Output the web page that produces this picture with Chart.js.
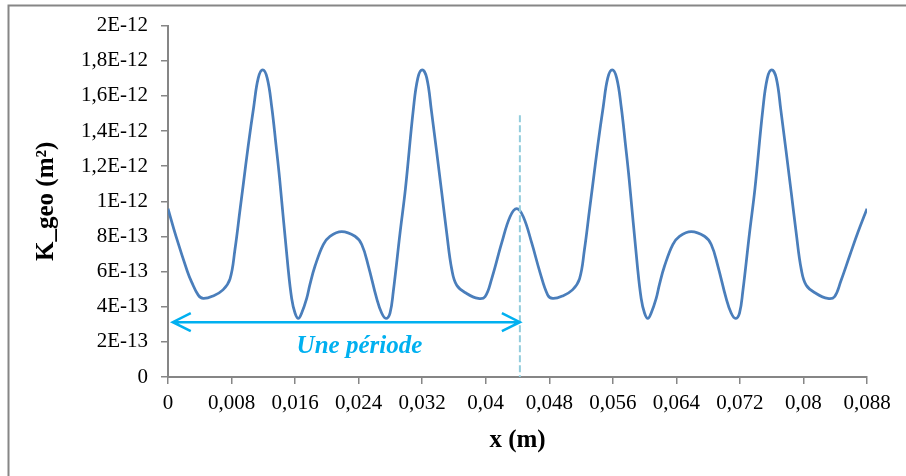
<!DOCTYPE html>
<html>
<head>
<meta charset="utf-8">
<script src="https://cdn.jsdelivr.net/npm/chart.js@4.4.1/dist/chart.umd.min.js"></script>
<style>
  html, body { margin: 0; padding: 0; background: #fff; }
  canvas { display: block; }
</style>
</head>
<body>
<canvas id="kChart" width="906" height="476"></canvas>
<script>
// x positions (m)
const xMeters = [
  0, 0.00101, 0.00243, 0.00298, 0.00381, 0.00444, 0.00567, 0.00692, 0.00781, 0.00843,
  0.00906, 0.00948, 0.01011, 0.01079, 0.01136, 0.01192, 0.01249, 0.01306, 0.01360, 0.01406,
  0.01509, 0.01557, 0.01599, 0.01641, 0.01683, 0.01746, 0.01788, 0.01852, 0.01955, 0.02039,
  0.02187, 0.02354, 0.02439, 0.02522, 0.02627, 0.02690, 0.02744, 0.02795, 0.02836, 0.02921,
  0.02990, 0.03088, 0.03145, 0.03201, 0.03258, 0.03315, 0.03446, 0.03509, 0.03572, 0.03635,
  0.03760, 0.03906, 0.03991, 0.04075, 0.04201, 0.04306, 0.04390, 0.04473, 0.04579, 0.04683,
  0.04781, 0.04844, 0.04967, 0.05092, 0.05181, 0.05243, 0.05306, 0.05348, 0.05411, 0.05479,
  0.05536, 0.05592, 0.05649, 0.05706, 0.05760, 0.05806, 0.05909, 0.05957, 0.05999, 0.06041,
  0.06083, 0.06146, 0.06188, 0.06252, 0.06355, 0.06439, 0.06587, 0.06754, 0.06839, 0.06922,
  0.07027, 0.07090, 0.07144, 0.07195, 0.07236, 0.07321, 0.07390, 0.07488, 0.07545, 0.07601,
  0.07658, 0.07715, 0.07846, 0.07909, 0.07972, 0.08035, 0.08160, 0.08306, 0.08391, 0.08470,
  0.08586, 0.08687, 0.08800
];

// K_geo (m²) at those positions
const kGeo = [
  0.958e-12, 0.800e-12, 0.602e-12, 0.540e-12, 0.466e-12, 0.447e-12, 0.461e-12, 0.496e-12, 0.559e-12, 0.726e-12,
  0.949e-12, 1.097e-12, 1.320e-12, 1.537e-12, 1.701e-12, 1.748e-12, 1.701e-12, 1.537e-12, 1.320e-12, 1.125e-12,
  0.633e-12, 0.447e-12, 0.364e-12, 0.333e-12, 0.364e-12, 0.447e-12, 0.529e-12, 0.633e-12, 0.754e-12, 0.801e-12,
  0.828e-12, 0.801e-12, 0.754e-12, 0.633e-12, 0.447e-12, 0.364e-12, 0.333e-12, 0.364e-12, 0.485e-12, 0.819e-12,
  1.075e-12, 1.520e-12, 1.701e-12, 1.748e-12, 1.701e-12, 1.520e-12, 1.051e-12, 0.819e-12, 0.614e-12, 0.522e-12,
  0.475e-12, 0.447e-12, 0.457e-12, 0.559e-12, 0.763e-12, 0.912e-12, 0.958e-12, 0.912e-12, 0.763e-12, 0.596e-12,
  0.466e-12, 0.447e-12, 0.461e-12, 0.496e-12, 0.559e-12, 0.726e-12, 0.949e-12, 1.097e-12, 1.320e-12, 1.537e-12,
  1.701e-12, 1.748e-12, 1.701e-12, 1.537e-12, 1.320e-12, 1.125e-12, 0.633e-12, 0.447e-12, 0.364e-12, 0.333e-12,
  0.364e-12, 0.447e-12, 0.529e-12, 0.633e-12, 0.754e-12, 0.801e-12, 0.828e-12, 0.801e-12, 0.754e-12, 0.633e-12,
  0.447e-12, 0.364e-12, 0.333e-12, 0.364e-12, 0.485e-12, 0.819e-12, 1.075e-12, 1.520e-12, 1.701e-12, 1.748e-12,
  1.701e-12, 1.520e-12, 1.051e-12, 0.819e-12, 0.614e-12, 0.522e-12, 0.475e-12, 0.447e-12, 0.457e-12, 0.545e-12,
  0.696e-12, 0.825e-12, 0.958e-12
];

const xTickLabels = ['0', '0,008', '0,016', '0,024', '0,032', '0,04', '0,048', '0,056', '0,064', '0,072', '0,08', '0,088'];
const yTickLabels = ['0', '2E-13', '4E-13', '6E-13', '8E-13', '1E-12', '1,2E-12', '1,4E-12', '1,6E-12', '1,8E-12', '2E-12'];
const xStep = 0.008;
const yStep = 2e-13;

// "Une période" annotation
const periodStart = 0.0006;
const periodEnd = 0.0443;
const arrowLevel = 3.12e-13;
const dashTop = 1.49e-12;
const periodLabel = 'Une période';
const labelX = 0.0241;
const labelY = 1.34e-13;

const axisGray = '#868686';
const serif = '"Liberation Serif", "Times New Roman", serif';

const frame = {
  id: 'frame',
  beforeDraw(chart) {
    const ctx = chart.ctx;
    ctx.save();
    ctx.fillStyle = '#fff';
    ctx.fillRect(0, 0, chart.width, chart.height);
    ctx.strokeStyle = axisGray;
    ctx.lineWidth = 2;
    ctx.strokeRect(8.5, 5.5, chart.width + 20, chart.height + 20);
    ctx.restore();
  }
};

const periodMark = {
  id: 'periodMark',
  afterDatasetsDraw(chart) {
    const { ctx, scales: { x, y } } = chart;
    const x0 = x.getPixelForValue(periodStart);
    const x1 = x.getPixelForValue(periodEnd);
    const yl = y.getPixelForValue(arrowLevel);
    ctx.save();

    // dashed boundary
    ctx.strokeStyle = '#93CDDD';
    ctx.lineWidth = 2;
    ctx.setLineDash([7, 3]);
    ctx.beginPath();
    ctx.moveTo(x1, y.getPixelForValue(dashTop));
    ctx.lineTo(x1, y.getPixelForValue(0));
    ctx.stroke();
    ctx.setLineDash([]);

    // double arrow
    ctx.strokeStyle = '#00B0F0';
    ctx.lineWidth = 2.5;
    ctx.beginPath();
    ctx.moveTo(x0, yl);
    ctx.lineTo(x1, yl);
    ctx.moveTo(x0 + 18, yl - 9);
    ctx.lineTo(x0, yl);
    ctx.lineTo(x0 + 18, yl + 9);
    ctx.moveTo(x1 - 18, yl - 9);
    ctx.lineTo(x1, yl);
    ctx.lineTo(x1 - 18, yl + 9);
    ctx.stroke();

    ctx.fillStyle = '#00B0F0';
    ctx.font = 'italic bold 25px ' + serif;
    ctx.textAlign = 'center';
    ctx.textBaseline = 'alphabetic';
    ctx.fillText(periodLabel, x.getPixelForValue(labelX), y.getPixelForValue(labelY));
    ctx.restore();
  }
};

const ctx = document.getElementById('kChart').getContext('2d');
new Chart(ctx, {
  type: 'line',
  data: {
    datasets: [{
      data: xMeters.map((v, i) => ({ x: v, y: kGeo[i] })),
      borderColor: '#4A7EBB',
      borderWidth: 2.75,
      pointRadius: 0,
      fill: false,
      tension: 0.4
    }]
  },
  options: {
    responsive: false,
    animation: false,
    devicePixelRatio: 1,
    layout: { padding: { top: 18, right: 39, left: 0, bottom: 0 } },
    plugins: { legend: { display: false }, tooltip: { enabled: false } },
    scales: {
      x: {
        type: 'linear',
        min: 0,
        max: 0.088,
        afterFit: s => { s.height = 99; },
        ticks: {
          stepSize: xStep,
          padding: 7,
          color: '#000',
          font: { family: serif, size: 21 },
          maxRotation: 0,
          autoSkip: false,
          callback: v => xTickLabels[Math.round(v / xStep)]
        },
        grid: { drawOnChartArea: false, tickLength: 7, color: axisGray, lineWidth: 1.5 },
        border: { color: axisGray, width: 2 },
        title: {
          display: true,
          text: 'x (m)',
          color: '#000',
          font: { family: serif, size: 25, weight: 'bold' },
          padding: { top: 0, bottom: 20 }
        }
      },
      y: {
        min: 0,
        max: 2e-12,
        afterFit: s => { s.width = 168; },
        ticks: {
          stepSize: yStep,
          padding: 13,
          color: '#000',
          font: { family: serif, size: 21 },
          autoSkip: false,
          callback: v => yTickLabels[Math.round(v / yStep)]
        },
        grid: { drawOnChartArea: false, tickLength: 7, color: axisGray, lineWidth: 1.5 },
        border: { color: axisGray, width: 2 },
        title: {
          display: true,
          text: 'K_geo (m²)',
          color: '#000',
          font: { family: serif, size: 25, weight: 'bold' },
          padding: { top: 32, bottom: 0 }
        }
      }
    }
  },
  plugins: [frame, periodMark]
});
</script>
</body>
</html>
